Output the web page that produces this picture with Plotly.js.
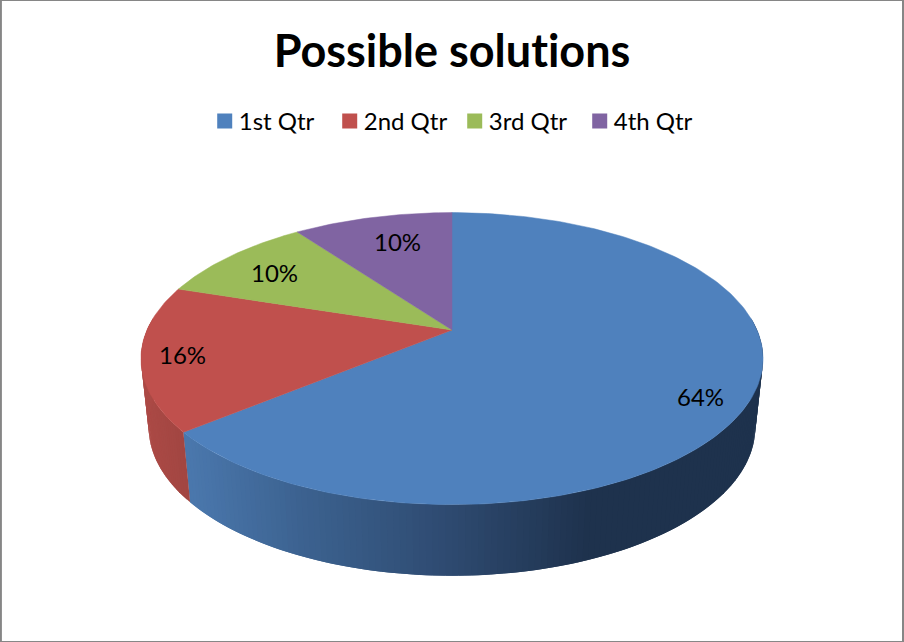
<!DOCTYPE html>
<html>
<head>
<meta charset="utf-8">
<script src="https://cdn.plot.ly/plotly-3.0.1.min.js"></script>
<style>
html,body{margin:0;padding:0;background:#fff}
#chart{width:904px;height:642px}
#chart svg text{font-variant-ligatures:none;font-feature-settings:"liga" 0,"clig" 0;text-rendering:optimizeSpeed}
</style>
</head>
<body>
<div id="chart"></div>
<script>
// Share of each quarter, in percent
const categories = ['1st Qtr', '2nd Qtr', '3rd Qtr', '4th Qtr'];
const shares = [64, 16, 10, 10];
const sliceColors = ['#4F81BD', '#C0504D', '#9BBB59', '#8064A2'];

// Where each percentage label sits inside its slice
const labelRadius = [0.85, 0.88, 0.8, 0.75];
const labelNudgeX = [-4, 3, 3, 8];
const labelNudgeY = [12, 1, 3, -1];

// Tilted-disc projection, in page pixels
const apexX = 452, apexY = 330, radiusX = 305, radiusY = 140.4, tilt = 0.196;
const depthY = 68.5, baseScaleX = 0.975, baseScaleY = 1.015;

function project(deg, r) {
  const t = deg * Math.PI / 180;
  const w = 1 + tilt * r * Math.cos(t);
  return [apexX + radiusX * r * Math.sin(t) / w, apexY - radiusY * r * Math.cos(t) / w];
}
function projectBase(deg) {
  const p = project(deg, 1);
  return [apexX + (p[0] - apexX) * baseScaleX, apexY + depthY + (p[1] - apexY) * baseScaleY];
}

// Side-wall shading runs from left to right across the page
const blueShade = [[190, [74, 119, 172]], [300, [60, 98, 144]], [450, [46, 74, 112]], [590, [30, 50, 77]]];
const redShade = [[140, [172, 74, 70]], [190, [160, 69, 65]]];
function shadeAt(stops, x) {
  if (x <= stops[0][0]) return 'rgb(' + stops[0][1].join(',') + ')';
  for (let i = 1; i < stops.length; i++) {
    if (x <= stops[i][0]) {
      const f = (x - stops[i - 1][0]) / (stops[i][0] - stops[i - 1][0]);
      const c = stops[i][1].map((v, k) => Math.round(stops[i - 1][1][k] + (v - stops[i - 1][1][k]) * f));
      return 'rgb(' + c.join(',') + ')';
    }
  }
  return 'rgb(' + stops[stops.length - 1][1].join(',') + ')';
}

// Cumulative slice edges, clockwise from twelve o'clock
const total = shares.reduce((a, b) => a + b, 0);
const edges = [0];
shares.forEach(v => edges.push(edges[edges.length - 1] + v / total * 360));

const traces = [];
const wallFrom = 85, wallTo = 275, wallStep = 1;

// Visible wall under the first two slices; each band runs under the next one to hide seams
[0, 1].forEach(i => {
  const start = Math.max(edges[i], wallFrom), end = Math.min(edges[i + 1], wallTo);
  for (let a = start; a < end - 1e-6; a += wallStep) {
    const b = Math.min(a + wallStep * 2, end);
    const c = Math.min(a + wallStep, end);
    const p = [project(a, 1), project(b, 1), projectBase(b), projectBase(a)];
    const mid = (project(a, 1)[0] + project(c, 1)[0]) / 2;
    const col = shadeAt(i === 0 ? blueShade : redShade, mid);
    traces.push({
      x: p.map(q => q[0]).concat(p[0][0]),
      y: p.map(q => q[1]).concat(p[0][1]),
      mode: 'none', fill: 'toself', fillcolor: col,
      showlegend: false, hoverinfo: 'skip'
    });
  }
});

// Top face of every slice
shares.forEach((v, i) => {
  const xs = [apexX], ys = [apexY];
  for (let a = edges[i]; a < edges[i + 1]; a += 1) {
    const p = project(a, 1);
    xs.push(p[0]); ys.push(p[1]);
  }
  const last = project(edges[i + 1], 1);
  xs.push(last[0], apexX); ys.push(last[1], apexY);
  traces.push({
    x: xs, y: ys, mode: 'lines', fill: 'toself', fillcolor: sliceColors[i],
    line: {color: sliceColors[i], width: 0.5}, showlegend: false,
    name: categories[i], hoverinfo: 'name'
  });
});

// Legend entries
categories.forEach((name, i) => {
  traces.push({
    x: [null], y: [null], mode: 'markers', name: name,
    marker: {symbol: 'square', size: 15, color: sliceColors[i]}
  });
});

const annotations = shares.map((v, i) => {
  const p = project((edges[i] + edges[i + 1]) / 2, labelRadius[i]);
  return {
    x: p[0] + labelNudgeX[i], y: p[1] + labelNudgeY[i], text: v + '%', showarrow: false,
    xref: 'x', yref: 'y', xanchor: 'center', yanchor: 'middle',
    font: {family: 'Lato, sans-serif', size: 24, color: '#000'}
  };
});

const frameColor = '#868686';
const frameLine = (x0, y0, x1, y1, w) => ({
  type: 'line', xref: 'paper', yref: 'paper', x0: x0, y0: y0, x1: x1, y1: y1,
  line: {color: frameColor, width: w}, layer: 'above'
});

const layout = {
  width: 904, height: 642,
  margin: {l: 0, r: 0, t: 0, b: 0},
  paper_bgcolor: '#fff', plot_bgcolor: '#fff',
  title: {
    text: '<b>Possible solutions</b>',
    font: {family: 'Lato, sans-serif', size: 45, color: '#000'},
    x: 0.5, xanchor: 'center', xref: 'paper', y: 0.92, yref: 'paper', yanchor: 'middle'
  },
  xaxis: {range: [0, 904], visible: false, fixedrange: true},
  yaxis: {range: [642, 0], visible: false, fixedrange: true},
  showlegend: true,
  legend: {
    orientation: 'h', x: 0.503, xanchor: 'center', y: 0.811, yanchor: 'middle',
    font: {family: 'Lato, sans-serif', size: 24, color: '#000'},
    itemwidth: 30, entrywidth: 80, entrywidthmode: 'pixels', bgcolor: 'rgba(0,0,0,0)'
  },
  annotations: annotations,
  shapes: [
    frameLine(0.001, 0, 0.001, 1, 2),
    frameLine(0.9989, 0, 0.9989, 1, 2),
    frameLine(0, 0.9992, 1, 0.9992, 1),
    frameLine(0, 0.0008, 1, 0.0008, 1)
  ]
};

Plotly.newPlot('chart', traces, layout, {displayModeBar: false}).then(() => {
  // Tighten the gap between each legend swatch and its text
  document.querySelectorAll('#chart .legendtext').forEach(t => {
    t.setAttribute('x', parseFloat(t.getAttribute('x')) - 6);
  });
});
</script>
</body>
</html>
